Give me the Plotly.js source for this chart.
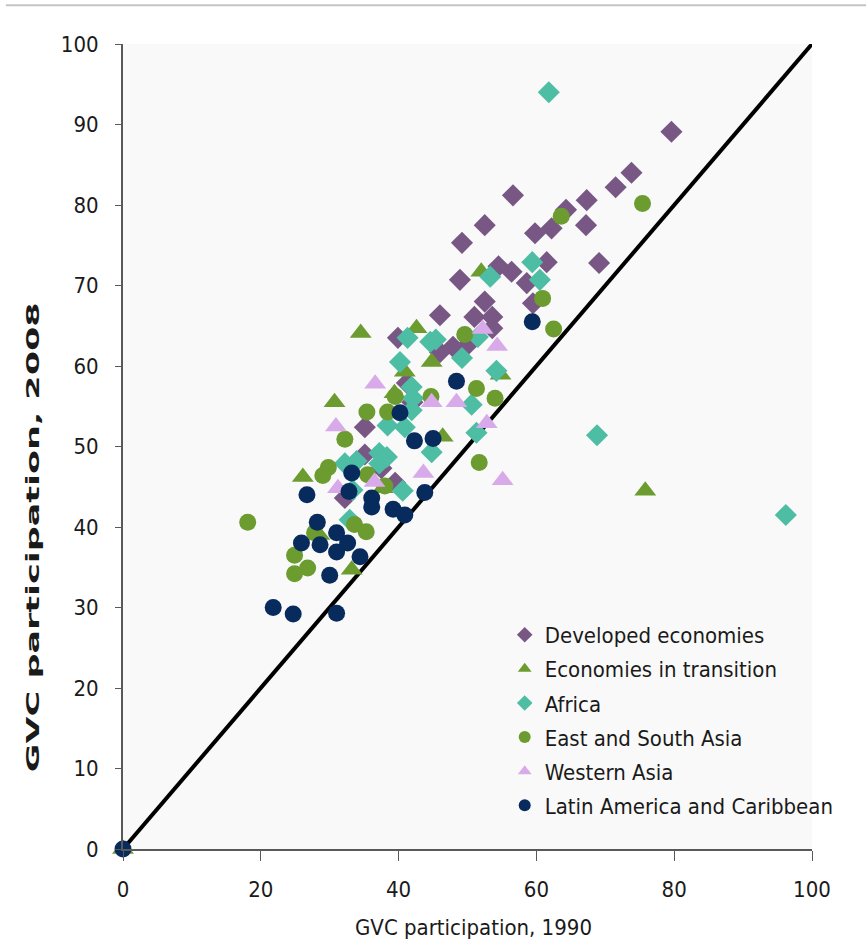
<!DOCTYPE html>
<html>
<head>
<meta charset="utf-8">
<script src="https://cdn.plot.ly/plotly-3.0.1.min.js"></script>
<style>
html,body{margin:0;padding:0;background:#fff;}
#chart{width:866px;height:950px;}
</style>
</head>
<body>
<div id="chart"></div>
<script>
// Series names
const seriesNames = ["Developed economies", "Economies in transition", "Africa", "East and South Asia", "Western Asia", "Latin America and Caribbean"];

// GVC participation 1990 (x) and 2008 (y) per group
const developedX = [79.6,73.8,71.5,67.3,56.6,64.3,67.2,62.2,59.8,52.5,49.2,69.1,61.5,56.4,54.5,58.6,48.9,52.5,59.5,46.0,51.0,53.6,53.6,50.0,47.9,46.0,39.9,41.2,42.0,35.1,35.1,39.5,32.2,37.5];
const developedY = [89.1,84.0,82.2,80.6,81.2,79.4,77.5,77.1,76.5,77.5,75.3,72.8,72.9,71.7,72.4,70.3,70.7,68.0,67.8,66.3,66.1,66.1,64.7,62.6,62.4,61.7,63.5,57.9,55.5,52.4,49.0,45.5,43.6,47.3];

const transitionX = [0,26.1,30.7,34.5,42.6,40.9,44.8,39.4,52.0,54.8,46.4,37.7,33.2,75.8,28.5];
const transitionY = [0,46.2,55.5,64.1,64.7,59.3,60.5,56.6,71.7,58.9,51.2,44.8,34.7,44.5,39.0];

const africaX = [61.8,68.8,96.2,59.4,60.5,53.3,41.3,45.4,44.6,49.2,54.2,51.5,40.2,41.9,42.1,41.9,40.9,38.4,50.6,51.3,44.8,40.6,37.2,37.2,38.3,33.9,32.2,33.3,32.9];
const africaY = [94.0,51.4,41.5,72.9,70.7,71.1,63.5,63.3,63.0,61.0,59.4,63.6,60.5,57.4,56.0,54.5,52.4,52.6,55.2,51.7,49.3,44.5,49.2,47.9,48.7,48.2,47.9,44.6,40.9];

const asiaX = [18.1,75.4,63.6,60.9,62.5,49.6,51.3,54.0,51.7,44.7,39.5,35.4,38.4,32.2,29.8,29.0,35.5,38.0,33.6,35.3,24.9,24.9,26.8,27.8];
const asiaY = [40.6,80.2,78.6,68.4,64.6,63.9,57.2,56.0,48.0,56.2,56.2,54.3,54.3,50.9,47.4,46.4,46.5,45.1,40.3,39.4,36.5,34.2,34.9,39.3];

const westAsiaX = [30.9,36.6,31.2,36.5,43.6,44.8,48.4,52.8,55.1,52.2,54.3];
const westAsiaY = [52.5,57.8,44.8,45.6,46.7,55.5,55.5,52.9,45.8,64.6,62.5];

const latamX = [0,59.4,48.4,40.2,42.3,45.0,43.8,33.2,32.8,26.7,36.1,36.1,39.2,40.9,28.2,25.9,28.6,31.0,31.0,32.6,34.4,30.0,21.8,24.7,31.0];
const latamY = [0,65.5,58.1,54.2,50.7,51.0,44.3,46.7,44.4,44.0,43.6,42.5,42.2,41.5,40.6,38.0,37.8,39.3,36.9,38.0,36.3,34.0,30.0,29.2,29.3];

// 45-degree reference line endpoints
const diagX = [0, 100];
const diagY = [0, 100];

const yTickVals = [0,10,20,30,40,50,60,70,80,90,100];
const xTickVals = [0,20,40,60,80,100];
const xTitle = 'GVC participation, 1990';
const yTitle = 'GVC participation, 2008';

function sc(i, x, y, symbol, color, size) {
  return {type:'scatter', mode:'markers', name:seriesNames[i], legendgroup:'g'+i, x:x, y:y, cliponaxis:false,
    marker:{symbol:symbol, color:color, size:size, line:{width:0}}};
}

const traces = [
  {type:'scatter', mode:'lines', x:diagX, y:diagY, showlegend:false, hoverinfo:'skip',
   line:{color:'#000000', width:4}},
  sc(0, developedX, developedY, 'diamond', '#795785', 17),
  sc(1, transitionX, transitionY, 'triangle-up', '#6c9b2f', 19),
  sc(2, africaX, africaY, 'diamond', '#4dbda4', 17),
  sc(3, asiaX, asiaY, 'circle', '#6c9b2f', 17),
  sc(4, westAsiaX, westAsiaY, 'triangle-up', '#d9aae9', 19),
  sc(5, latamX, latamY, 'circle', '#062b5c', 17)
];

const fontFam = 'DejaVu Sans Condensed, Liberation Sans Narrow, Liberation Sans, sans-serif';
const txtCol = '#1a1a1a';

const layout = {
  width:866, height:950,
  margin:{l:123, r:54, t:44, b:101},
  paper_bgcolor:'#ffffff',
  plot_bgcolor:'#f9f9f9',
  showlegend:true,
  legend:{x:0.554, y:0.292, xanchor:'left', yanchor:'top', bgcolor:'rgba(0,0,0,0)',
    font:{family:fontFam, size:22, color:txtCol}, itemsizing:'constant', tracegroupgap:2.5},
  xaxis:{range:[0,100], tickvals:xTickVals, showgrid:false, zeroline:false,
    showline:true, linecolor:'#595959', linewidth:2, ticks:'outside', ticklen:10, tickcolor:'#595959',
    ticklabelstandoff:10,
    tickfont:{family:fontFam, size:22, color:txtCol}},
  yaxis:{range:[0,100], tickvals:yTickVals, showgrid:false, zeroline:false,
    showline:true, linecolor:'#595959', linewidth:2, ticks:'outside', ticklen:6, tickcolor:'#595959',
    ticklabelstandoff:12,
    tickfont:{family:fontFam, size:22, color:txtCol}},
  annotations:[
    {text:'<b>'+yTitle+'</b>', xref:'paper', yref:'paper', x:-0.1306, y:0.387, textangle:-90,
     showarrow:false, xanchor:'center', yanchor:'middle',
     font:{family:'DejaVu Sans, sans-serif', size:17, color:txtCol}},
    {text:xTitle, xref:'paper', yref:'paper', x:0.509, y:-0.097, showarrow:false,
     xanchor:'center', yanchor:'middle', font:{family:fontFam, size:22, color:txtCol}}
  ],
  shapes:[{type:'line', xref:'paper', yref:'paper', x0:-0.17, x1:1.08, y0:1.048, y1:1.048,
    line:{color:'#c4c4c4', width:2}}]
};

Plotly.newPlot('chart', traces, layout, {displayModeBar:false, staticPlot:true}).then(function(gd){
  // stretch the y-axis title along its reading direction, as in the reference
  const t = gd.querySelector('g.annotation[data-index="0"] text.annotation-text');
  if (!t) return;
  const bb = t.getBBox();
  if (!bb.width) return;
  const cx = bb.x + bb.width/2, cy = bb.y + bb.height/2;
  const k = 470 / bb.width;
  const prev = t.getAttribute('transform') || '';
  t.setAttribute('transform', prev + ' translate(' + cx + ',' + cy + ') scale(' + k + ',1) translate(' + (-cx) + ',' + (-cy) + ')');
});
</script>
</body>
</html>
